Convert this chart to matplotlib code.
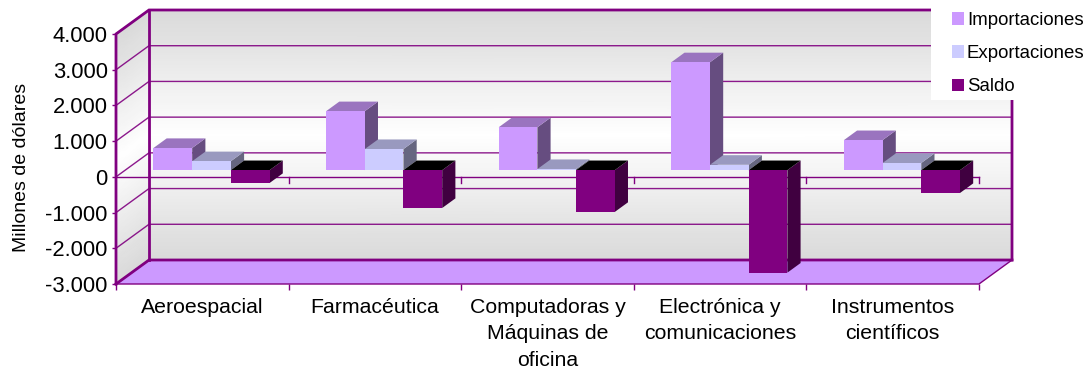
import matplotlib
matplotlib.use('Agg')
import matplotlib.pyplot as plt
import numpy as np
from matplotlib.colors import LinearSegmentedColormap
from matplotlib.patches import Patch, Polygon, Rectangle

plt.rcParams['font.family'] = ['Liberation Sans', 'DejaVu Sans']

categories = ['Aeroespacial', 'Farmacéutica', 'Computadoras y\nMáquinas de\noficina',
              'Electrónica y\ncomunicaciones', 'Instrumentos\ncientíficos']
importaciones = [620, 1650, 1200, 3020, 840]
exportaciones = [250, 590, 30, 150, 200]
saldo = [-360, -1060, -1170, -2870, -640]
y_ticks = [-3000, -2000, -1000, 0, 1000, 2000, 3000, 4000]
y_labels = ['-3.000', '-2.000', '-1.000', '0', '1.000', '2.000', '3.000', '4.000']

PURPLE = '#800080'
# how far the back wall sits from the front plane, in data units
DX = 33 / 172.6
DY = 24 / 250 * 7000
YMIN, YMAX = -3000, 4000
N = len(categories)


def proj(x, y, d):
    return (x + d * DX, y + d * DY)


fig = plt.figure(figsize=(10.88, 3.70), dpi=100)
ax = fig.add_axes([116 / 1088, 86 / 370, 863 / 1088, 250 / 370])
ax.patch.set_visible(False)
for s in ax.spines.values():
    s.set_visible(False)

# walls
wall = LinearSegmentedColormap.from_list('wall', ['#d9d9d9', '#ffffff', '#d9d9d9'])
vals = np.linspace(YMIN, YMAX, 41)
shade = np.linspace(0, 1, 41)[:, None].repeat(2, axis=1)
bx = np.array([[0.0, N + 0.0]] * 41) + DX
by = np.c_[vals, vals] + DY
ax.pcolormesh(bx, by, shade, cmap=wall, shading='gouraud', clip_on=False, zorder=1)
lx = np.array([[0.0, DX]] * 41)
ly = np.c_[vals, vals + DY]
ax.pcolormesh(lx, ly, shade, cmap=wall, shading='gouraud', clip_on=False, zorder=1)

# floor
floor = [proj(0, YMIN, 0), proj(N, YMIN, 0), proj(N, YMIN, 1), proj(0, YMIN, 1)]
ax.add_patch(Polygon(floor, closed=True, fc='#cc99ff', ec='none', clip_on=False, zorder=2))

# grid lines on both walls
for v in y_ticks:
    p0, p1, p2 = proj(0, v, 0), proj(0, v, 1), proj(N, v, 1)
    ax.plot([p0[0], p1[0], p2[0]], [p0[1], p1[1], p2[1]], color=PURPLE, lw=1,
            alpha=0.9, clip_on=False, zorder=3, solid_joinstyle='miter')

# frame of the walls and floor
p = [proj(0, YMIN, 0), proj(0, YMAX, 0), proj(0, YMAX, 1), proj(N, YMAX, 1), proj(N, YMIN, 1)]
ax.plot(*zip(*p), color=PURPLE, lw=2, clip_on=False, zorder=4, solid_joinstyle='miter')
p = [proj(0, YMIN, 0), proj(0, YMIN, 1), proj(N, YMIN, 1)]
ax.plot(*zip(*p), color=PURPLE, lw=2, clip_on=False, zorder=4, solid_joinstyle='miter')
p = [proj(0, YMAX, 1), proj(0, YMIN, 1)]
ax.plot(*zip(*p), color=PURPLE, lw=2, clip_on=False, zorder=4)
p = [proj(N, YMIN, 1), proj(N, YMIN, 0), proj(0, YMIN, 0)]
ax.plot(*zip(*p), color=PURPLE, lw=1, clip_on=False, zorder=4)

# zero axis with its ticks
ax.plot([0, N], [0, 0], color=PURPLE, lw=1, clip_on=False, zorder=4)
for i in range(1, N + 1):
    ax.plot([i, i], [0, -170], color=PURPLE, lw=1, clip_on=False, zorder=4)

# bars
series = [importaciones, exportaciones, saldo]
front = ['#cc99ff', '#ccccff', PURPLE]
top = ['#9a74bf', '#9999bf', '#000000']
side = ['#664d80', '#666680', '#400040']
labels = ['Importaciones', 'Exportaciones', 'Saldo']
w = 38.7 / 172.6
d0, d1 = 0.28, 0.68
z = 5
for i in range(N):
    for j in range(3):
        v = series[j][i]
        x0 = i + 0.5 + (j - 1.5) * w
        x1 = x0 + w
        hi = max(v, 0)
        lo = min(v, 0)
        ax.bar(x0 + d0 * DX, v, w, bottom=d0 * DY, align='edge', color=front[j],
               clip_on=False, zorder=z + 2)
        ax.add_patch(Polygon([proj(x1, lo, d0), proj(x1, hi, d0), proj(x1, hi, d1), proj(x1, lo, d1)],
                             closed=True, fc=side[j], ec='none', clip_on=False, zorder=z))
        ax.add_patch(Polygon([proj(x0, hi, d0), proj(x1, hi, d0), proj(x1, hi, d1), proj(x0, hi, d1)],
                             closed=True, fc=top[j], ec='none', clip_on=False, zorder=z + 1))
        z += 3

ax.set_xlim(0, N)
ax.set_ylim(YMIN, YMAX)
ax.set_yticks(y_ticks)
ax.set_yticklabels(y_labels, fontsize=15.8)
ax.set_xticks(np.arange(N + 1))
ax.set_xticklabels([])
ax.set_xticks(np.arange(N) + 0.5, minor=True)
ax.set_xticklabels(categories, minor=True, fontsize=15.3, linespacing=1.5)
ax.tick_params(axis='y', length=3, width=1, color=PURPLE, pad=3)
ax.tick_params(axis='x', which='major', length=4.5, width=1, color=PURPLE)
ax.tick_params(axis='x', which='minor', length=0, pad=10)
ax.set_ylabel('Millones de dólares', fontsize=14)
ax.yaxis.set_label_coords(-86 / 863, 0.465)

# legend sits on a white box over the top right corner of the wall
fig.add_artist(Rectangle((931 / 1088, 270 / 370), 157 / 1088, 100 / 370, transform=fig.transFigure,
                         fc='white', ec='none', zorder=49))
handles = [Patch(fc=c, ec='none') for c in front]
leg = fig.legend(handles, labels, loc='upper left', bbox_to_anchor=(952 / 1088, 358 / 370),
                 fontsize=13.4, frameon=False, handlelength=0.65, handleheight=0.65,
                 handletextpad=0.15, labelspacing=0.87, borderaxespad=0, borderpad=0)
leg.set_zorder(50)

fig.savefig('out.png', dpi=100)
